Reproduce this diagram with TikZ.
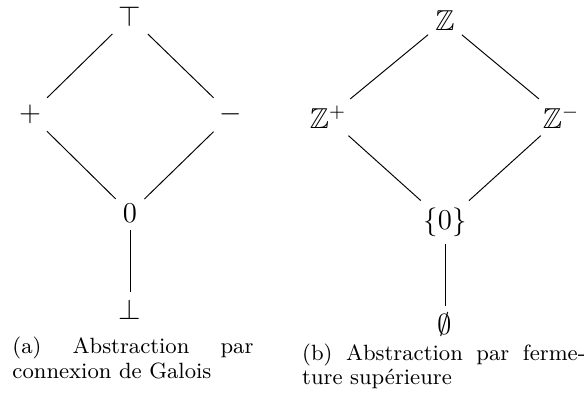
\documentclass[tikz,border=0pt]{standalone}
\usepackage{amssymb}
\begin{document}
\begin{tikzpicture}[x=0.416667pt,y=-0.416667pt,
  lat/.style={inner sep=2.85pt, font=\fontsize{12}{14}\selectfont, anchor=base},
  captext/.style={inner sep=0pt, anchor=base west, align=justify, font=\fontsize{9.2}{10.4}\selectfont},
  link/.style={line width=0.4pt}]
\useasboundingbox (0,0) rectangle (587,392);
% (a)
\node[lat] (top) at (130,26.7) {$\top$};
\node[lat] (plus) at (30,121.7) {$+$};
\node[lat] (minus) at (231,121.9) {$-$};
\node[lat] (zero) at (130,222.3) {$0$};
\node[lat] (bot) at (130,319) {$\bot$};
\draw[link] (top) -- (plus);
\draw[link] (top) -- (minus);
\draw[link] (plus) -- (zero);
\draw[link] (minus) -- (zero);
\draw[link] (zero) -- (bot);
% (b)
\node[lat] (Z) at (445,30.7) {$\mathbb{Z}$};
\node[lat] (Zp) at (328,128.3) {$\mathbb{Z}^{+}$};
\node[lat] (Zm) at (561,128.3) {$\mathbb{Z}^{-}$};
\node[lat] (Z0) at (445,229.5) {$\{0\}$};
\node[lat] (empty) at (445,334.5) {$\emptyset$};
\draw[link] (Z) -- (Zp);
\draw[link] (Z) -- (Zm);
\draw[link] (Zp) -- (Z0);
\draw[link] (Zm) -- (Z0);
\draw[link] (Z0) -- (empty);
% captions
\node[captext, text width=100.4pt] (capa) at (12,353.3) {(a) Abstraction par\linebreak connexion de Galois};
\node[captext, text width=118pt] (capb) at (301.7,360) {(b) Abstraction par ferme-\linebreak ture supérieure};
\end{tikzpicture}
\end{document}
